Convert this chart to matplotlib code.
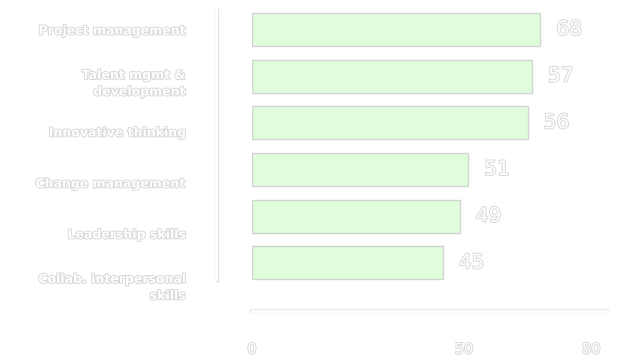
import matplotlib.pyplot as plt
import matplotlib.patheffects as pe

categories = ["Project management", "Talent mgmt &\ndevelopment", "Innovative thinking",
              "Change management", "Leadership skills", "Collab. interpersonal\nskills"]
values = [68, 66, 65, 51, 49, 45]
value_labels = ["68", "57", "56", "51", "49", "45"]
ticks = [0, 50, 80]

# category labels sit on a slightly wider pitch than the bars
label_step = 51 / 46.7

outline = [pe.Stroke(linewidth=1.3, foreground='#d6d6d6'), pe.Normal()]

fig = plt.figure(figsize=(6.4, 3.62), dpi=100)
ax = fig.add_axes([252/640, 1 - 311/362, 355/640, 306/362])

# spines first: set_position resets the ticks
for s in ['top', 'right']:
    ax.spines[s].set_visible(False)
ax.spines['left'].set_position(('outward', 25.2))
ax.spines['left'].set_color('white')
ax.spines['left'].set_linewidth(1.5)
ax.spines['left'].set_path_effects([pe.Stroke(linewidth=2.5, foreground='#e2e2e2'), pe.Normal()])
ax.spines['bottom'].set_color('white')
ax.spines['bottom'].set_linewidth(2)
ax.spines['bottom'].set_path_effects([pe.Stroke(linewidth=3.2, foreground='#ececec'), pe.Normal()])

y = list(range(len(categories)))
ax.barh(y, values, height=0.71, color='#dffcdb', edgecolor='#d4d4d4', linewidth=1)

for yi, v, lab in zip(y, values, value_labels):
    ax.annotate(lab, (v, yi), xytext=(11.5, 0), textcoords='offset points',
                va='center', ha='left', fontsize=14.5, color='white',
                path_effects=outline)

ax.set_xlim(0, 83.7)
ax.set_ylim(6.03, -0.525)
ax.spines['left'].set_bounds(-0.42, 5.36)
ax.tick_params(axis='y', length=0, pad=23, labelcolor='white')
ax.tick_params(axis='x', length=0, pad=22, labelcolor='white')
ax.set_yticks([i * label_step for i in y])
ax.set_yticklabels(categories, fontsize=9, fontweight='bold', color='white', linespacing=1.35)
ax.set_xticks(ticks)
ax.set_xticklabels([str(t) for t in ticks], fontsize=10.5, color='white')
for t in ax.get_yticklabels() + ax.get_xticklabels():
    t.set_path_effects(outline)

fig.savefig('out.png', dpi=100)
